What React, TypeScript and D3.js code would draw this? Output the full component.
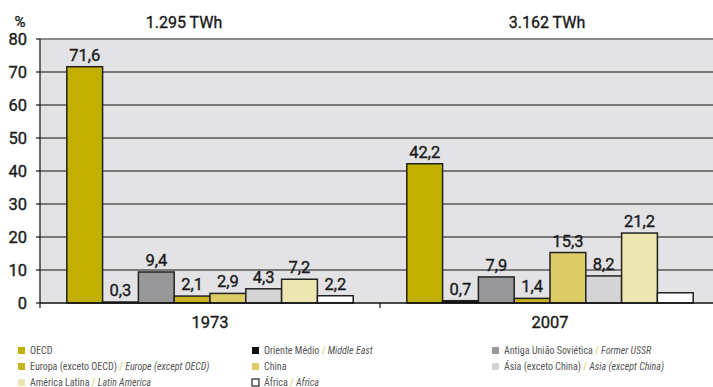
import React from "react";
import * as d3 from "d3";

const years = ["1973", "2007"];
const totals = ["1.295 TWh", "3.162 TWh"];
const regions = ["OECD", "Oriente Médio", "Antiga União Soviética", "Europa (exceto OECD)", "China", "Ásia (exceto China)", "América Latina", "África"];
const values1973 = [71.6, 0.3, 9.4, 2.1, 2.9, 4.3, 7.2, 2.2];
const values2007 = [42.2, 0.7, 7.9, 1.4, 15.3, 8.2, 21.2, 3.1];
const labels1973 = ["71,6", "0,3", "9,4", "2,1", "2,9", "4,3", "7,2", "2,2"];
const labels2007 = ["42,2", "0,7", "7,9", "1,4", "15,3", "8,2", "21,2", ""];
const colors = ["#c2b000", "#111111", "#98989a", "#c9b31c", "#dccd66", "#d4d4d6", "#ede6b3", "#ffffff"];
const yTicks = [0, 10, 20, 30, 40, 50, 60, 70, 80];
const legendPt = ["OECD", "Oriente Médio", "Antiga União Soviética", "Europa (exceto OECD)", "China", "Ásia (exceto China)", "América Latina", "África"];
const legendEn = ["", "Middle East", "Former USSR", "Europe (except OECD)", "", "Asia (except China)", "Latin America", "Africa"];
const titleOffsets = [-26, -3];

export default function App() {
  const W = 713, H = 387;
  const left = 40, right = 720, top = 39, bottom = 303;
  const x0 = d3.scaleBand<string>().domain(years).range([left, right]).paddingInner(0).paddingOuter(0);
  const barW = 35.8;
  const y = d3.scaleLinear().domain([0, 80]).range([bottom, top]);
  const series = [values1973, values2007];
  const lbls = [labels1973, labels2007];
  const font = "Roboto, 'Liberation Sans', Arial, sans-serif";
  const legFont = "'Liberation Sans Narrow', 'Roboto Condensed', 'Liberation Sans', Arial, sans-serif";
  const legendCols = [18, 252, 492];
  const legendRows = [351, 367, 383];
  const txt = { fontFamily: font, fontWeight: 400, fill: "#1a1a1a", stroke: "#1a1a1a", strokeWidth: 0.35 } as const;

  return (
    <svg width={W} height={H} style={{ position: "absolute", left: 0, top: 0 }}>
      <rect x={0} y={0} width={W} height={H} fill="#ffffff" />
      <rect x={left} y={top} width={W - left} height={bottom - top} fill="#e3e3e5" />
      {yTicks.filter(t => t > 0 && t < 80).map(t => (
        <line key={t} x1={left} x2={W} y1={y(t)} y2={y(t)} stroke="#111" strokeWidth={1} />
      ))}
      <line x1={left} x2={W} y1={y(80)} y2={y(80)} stroke="#8a8a8a" strokeWidth={2} />
      {years.map((yr, gi) => {
        const cx = (x0(yr) as number) + x0.bandwidth() / 2;
        const start = cx - (barW * regions.length) / 2;
        return (
          <g key={yr}>
            {series[gi].map((v, i) => (
              <rect key={i} x={start + i * barW} y={y(v)} width={barW} height={y(0) - y(v)}
                fill={colors[i]} stroke="#222" strokeWidth={1.5} />
            ))}
            {series[gi].map((v, i) => lbls[gi][i] ? (
              <text key={"l" + i} x={start + i * barW + barW / 2} y={y(v) - 6} textAnchor="middle"
                fontSize={16.5} {...txt}>{lbls[gi][i]}</text>
            ) : null)}
            <text x={cx} y={328} textAnchor="middle" fontSize={16.5} {...txt}>{yr}</text>
            <text x={cx + titleOffsets[gi]} y={28} textAnchor="middle" fontSize={16} {...txt}>{totals[gi]}</text>
          </g>
        );
      })}
      <line x1={left} x2={W} y1={y(0)} y2={y(0)} stroke="#111" strokeWidth={1.5} />
      <line x1={left} x2={left} y1={top} y2={bottom + 5} stroke="#111" strokeWidth={1.2} />
      {years.slice(1).map(yr => (
        <line key={yr} x1={x0(yr) as number} x2={x0(yr) as number} y1={bottom} y2={bottom + 5} stroke="#111" strokeWidth={1.2} />
      ))}
      {yTicks.map(t => (
        <g key={t}>
          <line x1={left - 4} x2={left} y1={y(t)} y2={y(t)} stroke="#111" strokeWidth={1.2} />
          <text x={27} y={y(t) + 6} textAnchor="end" fontSize={16.5} {...txt}>{t}</text>
        </g>
      ))}
      <text x={20} y={27} textAnchor="middle" fontSize={15} {...txt}>%</text>
      {legendPt.map((pt, i) => {
        const col = i % 3, row = Math.floor(i / 3);
        const sx = legendCols[col], sy = legendRows[row];
        return (
          <g key={pt}>
            <rect x={sx} y={sy - 4} width={7} height={7} fill={colors[i]}
              stroke={i === 7 ? "#222" : "none"} strokeWidth={1.2} />
            <text x={sx + 12} y={sy + 3} fontFamily={legFont} fontSize={10} fill="#555">
              {pt}
              {legendEn[i] ? <tspan fill="#d9c84a"> / </tspan> : null}
              {legendEn[i] ? <tspan fontStyle="italic">{legendEn[i]}</tspan> : null}
            </text>
          </g>
        );
      })}
    </svg>
  );
}
